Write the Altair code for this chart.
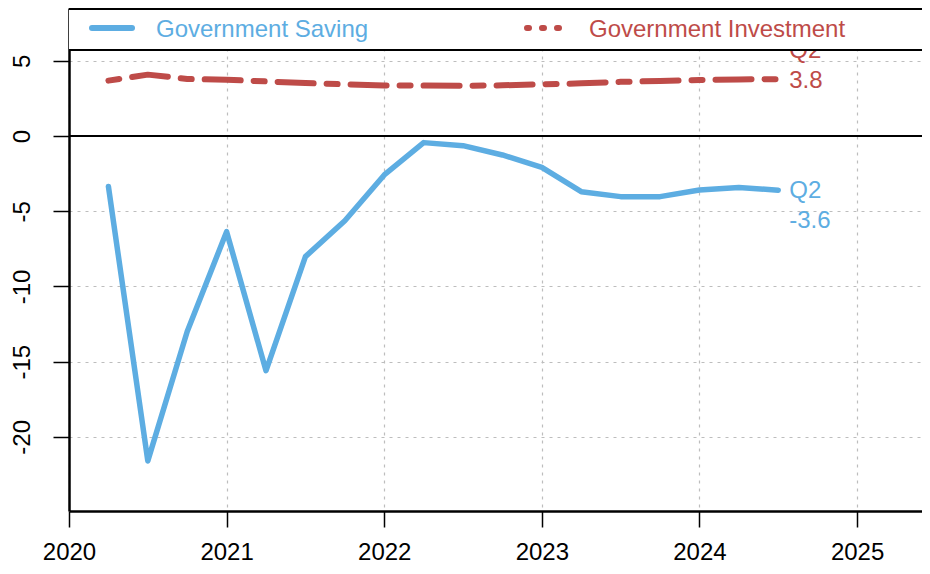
import altair as alt
import pandas as pd

quarters = [2020.25, 2020.5, 2020.75, 2021.0, 2021.25, 2021.5, 2021.75, 2022.0, 2022.25,
            2022.5, 2022.75, 2023.0, 2023.25, 2023.5, 2023.75, 2024.0, 2024.25, 2024.5]
saving = [-3.35, -21.6, -13.0, -6.36, -15.6, -8.02, -5.63, -2.59, -0.44,
          -0.64, -1.26, -2.08, -3.70, -4.03, -4.03, -3.59, -3.43, -3.6]
investment = [3.68, 4.08, 3.79, 3.74, 3.63, 3.52, 3.44, 3.36, 3.35,
              3.34, 3.37, 3.44, 3.50, 3.60, 3.66, 3.72, 3.76, 3.78]
series_names = ["Government Saving", "Government Investment"]
end_quarter = "Q2"
end_labels = ["-3.6", "3.8"]
x_ticks = [2020, 2021, 2022, 2023, 2024, 2025]
y_ticks = [-20, -15, -10, -5, 0, 5]

BLUE = "#5DADE2"
RED = "#BE4B48"
FONT = "Liberation Sans"

W, H = 853, 503

df_s = pd.DataFrame({"t": quarters, "v": saving})
df_i = pd.DataFrame({"t": quarters, "v": investment})
df_s_end = pd.DataFrame({"t": [quarters[-1]], "v": [saving[-1]],
                         "q": [end_quarter], "lab": [end_labels[0]]})
df_i_end = pd.DataFrame({"t": [quarters[-1]], "v": [investment[-1]],
                         "q": [end_quarter], "lab": [end_labels[1]]})
df_zero = pd.DataFrame({"v": [0]})
df_one = pd.DataFrame({"k": [0]})

xs = alt.Scale(domain=[2020, 2025.412], nice=False, zero=False)
ys = alt.Scale(domain=[-24.93, 8.51], nice=False, zero=False)

x_axis = alt.Axis(values=x_ticks, format="d", title=None, tickSize=16,
                  labelPadding=13, grid=True, labelFlush=False)
y_axis = alt.Axis(values=y_ticks, title=None, tickSize=16, labelAngle=270,
                  labelAlign="center", labelBaseline="bottom", labelPadding=19,
                  grid=True, labelExpr="toString(datum.value)")

X = alt.X("t:Q", scale=xs, axis=x_axis)
Y = alt.Y("v:Q", scale=ys, axis=y_axis)

zero_rule = alt.Chart(df_zero).mark_rule(color="black", strokeWidth=2).encode(
    y=alt.Y("v:Q", scale=ys, axis=y_axis))

line_s = alt.Chart(df_s).mark_line(color=BLUE, strokeWidth=5.5, strokeCap="round",
                                   strokeJoin="round").encode(x=X, y=Y)
line_i = alt.Chart(df_i).mark_line(color=RED, strokeWidth=6, strokeCap="round",
                                   strokeJoin="round",
                                   strokeDash=[11, 13, 36, 13]).encode(x=X, y=Y)

txt = dict(font=FONT, fontSize=24, align="left", baseline="middle", dx=11)
s_q = alt.Chart(df_s_end).mark_text(color=BLUE, dy=1, **txt).encode(x=X, y=Y, text="q:N")
s_v = alt.Chart(df_s_end).mark_text(color=BLUE, dy=31, **txt).encode(x=X, y=Y, text="lab:N")
i_q = alt.Chart(df_i_end).mark_text(color=RED, dy=-28, **txt).encode(x=X, y=Y, text="q:N")
i_v = alt.Chart(df_i_end).mark_text(color=RED, dy=2, **txt).encode(x=X, y=Y, text="lab:N")

leg_box = alt.Chart(df_one).mark_rect(fill="white", strokeWidth=0).encode(
    x=alt.value(0), x2=alt.value(W), y=alt.value(1), y2=alt.value(42))
leg_top = alt.Chart(df_one).mark_rule(color="black", strokeWidth=2).encode(
    x=alt.value(0), x2=alt.value(W), y=alt.value(1))
leg_bottom = alt.Chart(df_one).mark_rule(color="black", strokeWidth=2).encode(
    x=alt.value(0), x2=alt.value(W), y=alt.value(42))

leg_s_line = alt.Chart(df_one).mark_rule(color=BLUE, strokeWidth=6, strokeCap="round").encode(
    x=alt.value(23), x2=alt.value(63), y=alt.value(20))
leg_i_line = alt.Chart(df_one).mark_rule(color=RED, strokeWidth=6, strokeCap="round",
                                         strokeDash=[2, 13]).encode(
    x=alt.value(458), x2=alt.value(491), y=alt.value(20))
leg_s_text = alt.Chart(df_one).mark_text(text=series_names[0], color=BLUE, font=FONT,
                                         fontSize=24, align="left", baseline="alphabetic").encode(
    x=alt.value(87), y=alt.value(29))
leg_i_text = alt.Chart(df_one).mark_text(text=series_names[1], color=RED, font=FONT,
                                         fontSize=24, align="left", baseline="alphabetic").encode(
    x=alt.value(520), y=alt.value(29))

chart = alt.layer(
    line_s, zero_rule, line_i, s_q, s_v, i_q, i_v,
    leg_box, leg_top, leg_bottom, leg_s_line, leg_i_line, leg_s_text, leg_i_text
).properties(
    width=W, height=H,
    background="white",
    autosize=alt.AutoSizeParams(type="none"),
    padding={"left": 61, "top": 0, "right": 0, "bottom": 55},
).configure_view(stroke=None).configure_axis(
    domainColor="black", domainWidth=2.5, tickColor="black", tickWidth=1.5,
    labelFont=FONT, labelFontSize=24, labelColor="black",
    gridColor="#BDBDBD", gridDash=[3, 5], gridWidth=1.2,
)

chart.save("out.html", embed_options={"renderer": "svg", "actions": False})
